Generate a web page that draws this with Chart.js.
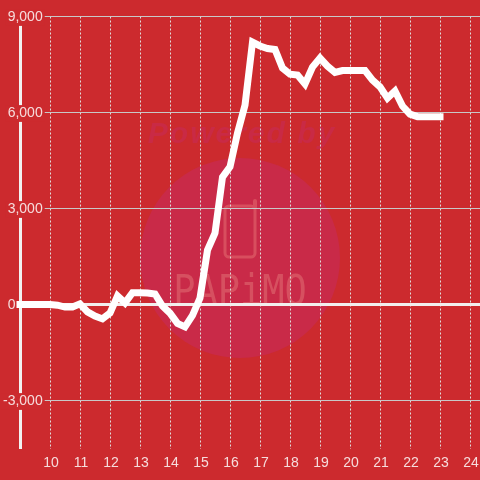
<!DOCTYPE html>
<html>
<head>
<meta charset="utf-8">
<style>
  html, body { margin: 0; padding: 0; background: #cc2a2e; }
  #wrap { position: relative; width: 480px; height: 480px; }
</style>
<script src="https://cdn.jsdelivr.net/npm/chart.js@4"></script>
</head>
<body>
<div id="wrap"><canvas id="chart" width="480" height="480"></canvas></div>
<script>
const times = [9, 10, 10.25, 10.5, 10.75, 11, 11.25, 11.5, 11.75, 12, 12.25, 12.5, 12.75, 13, 13.25, 13.5, 13.75, 14, 14.25, 14.5, 14.75, 15, 15.25, 15.5, 15.75, 16, 16.25, 16.5, 16.75, 17, 17.25, 17.5, 17.75, 18, 18.25, 18.5, 18.75, 19, 19.25, 19.5, 19.75, 20, 20.25, 20.5, 20.75, 21, 21.25, 21.5, 21.75, 22, 22.25, 22.5, 22.75, 23];
const values = [0, 0, -20, -80, -80, 20, -230, -360, -450, -270, 270, 50, 370, 370, 360, 330, -50, -270, -590, -700, -340, 200, 1700, 2230, 3980, 4300, 5360, 6230, 8200, 8080, 8000, 7970, 7390, 7200, 7170, 6890, 7420, 7700, 7450, 7250, 7310, 7310, 7310, 7310, 7010, 6800, 6450, 6670, 6200, 5950, 5870, 5870, 5870, 5870];
const yLabels = [9000, 6000, 3000, 0, -3000];

const red = "#cc2a2e";

// background and the faint watermark sit under the grid
const watermark = {
    id: "watermark",
    beforeDraw(chart) {
        const c = chart.ctx;
        c.save();
        c.fillStyle = red;
        c.fillRect(0, 0, 480, 480);

        c.fillStyle = "#c92a48";
        c.beginPath();
        c.arc(240, 258, 100, 0, Math.PI * 2);
        c.fill();

        c.fillStyle = "#c92a45";
        c.font = "italic bold 30px 'Liberation Sans'";
        c.letterSpacing = "2px";
        c.textAlign = "center";
        c.textBaseline = "alphabetic";
        c.fillText("Powered by", 242, 143);
        c.letterSpacing = "0px";

        c.strokeStyle = "#d84e5e";
        c.lineWidth = 3;
        c.beginPath();
        c.roundRect(225, 206, 30, 51, 4);
        c.stroke();
        c.lineCap = "round";
        c.lineWidth = 4;
        c.beginPath();
        c.moveTo(255, 207);
        c.lineTo(255, 201);
        c.stroke();

        c.fillStyle = "#d65060";
        c.font = "37px 'DejaVu Sans Mono'";
        c.translate(240, 305);
        c.scale(1, 1.17);
        c.fillText("PAPiMO", 0, 0);
        c.restore();

        // tick labels sit a pixel off what the scale works out
        if (!chart.labelsNudged) {
            chart.scales.x.getLabelItems(chart.chartArea).forEach(item => {
                item.options.translation[0] += 1;
            });
            chart.scales.y.getLabelItems(chart.chartArea).forEach(item => {
                item.options.translation[1] += 1;
                if (item.backdrop) item.backdrop.top += 1;
            });
            chart.labelsNudged = true;
        }
    }
};

new Chart(document.getElementById("chart"), {
    type: "line",
    data: {
        datasets: [{
            data: times.map((t, i) => ({ x: t, y: values[i] })),
            borderColor: "#ffffff",
            borderWidth: 7,
            borderCapStyle: "square",
            borderJoinStyle: "miter",
            pointRadius: 0,
            tension: 0,
            clip: false
        }]
    },
    plugins: [watermark],
    options: {
        responsive: false,
        animation: false,
        layout: { padding: { top: 16.5 } },
        plugins: { legend: { display: false }, tooltip: { enabled: false } },
        scales: {
            x: {
                type: "linear",
                min: 9,
                max: 24.3333,
                afterFit(scale) {
                    scale.height = 31.5;
                    scale.paddingLeft = 0;
                    scale.paddingRight = 0;
                },
                afterBuildTicks(scale) {
                    const out = [];
                    for (let h = 9; h <= 24; h++) out.push({ value: h });
                    scale.ticks = out;
                },
                border: { display: false, dash: [2, 2] },
                grid: { color: "#e0dcdc", lineWidth: 1, drawTicks: false },
                ticks: {
                    autoSkip: false,
                    maxRotation: 0,
                    padding: 6,
                    color: "#f6dcdc",
                    font: { family: "'Liberation Sans'", size: 14 },
                    callback: v => (v === 9 ? null : String(v))
                }
            },
            y: {
                type: "linear",
                min: -4500,
                max: 9000,
                afterFit(scale) {
                    scale.width = 20;
                    scale.paddingTop = 0;
                    scale.paddingBottom = 0;
                },
                afterBuildTicks(scale) {
                    const out = [];
                    for (let v = 9000; v >= -4000; v -= 1000) out.push({ value: v });
                    scale.ticks = out;
                },
                border: { display: true, color: "#f2f2f2", width: 3 },
                grid: {
                    drawTicks: false,
                    color: ctx => (ctx.tick.value === 0 ? "#f2eeee" : "#c8c8c8"),
                    lineWidth: ctx => (ctx.tick.value === 0 ? 3 : 1)
                },
                ticks: {
                    autoSkip: false,
                    mirror: true,
                    crossAlign: "far",
                    padding: -17,
                    color: "#f6dcdc",
                    font: { family: "'Liberation Sans'", size: 14 },
                    showLabelBackdrop: ctx => yLabels.includes(ctx.tick.value) && ctx.tick.value !== 0,
                    backdropColor: red,
                    backdropPadding: { x: 2, y: 0 },
                    callback: v => {
                        if (!yLabels.includes(v)) return null;
                        // the zero label sits left of the axis line
                        return v === 0 ? "0\u00a0\u00a0\u00a0\u00a0\u00a0\u00a0\u00a0" : v.toLocaleString("en-US");
                    }
                }
            }
        }
    }
});
</script>
</body>
</html>
